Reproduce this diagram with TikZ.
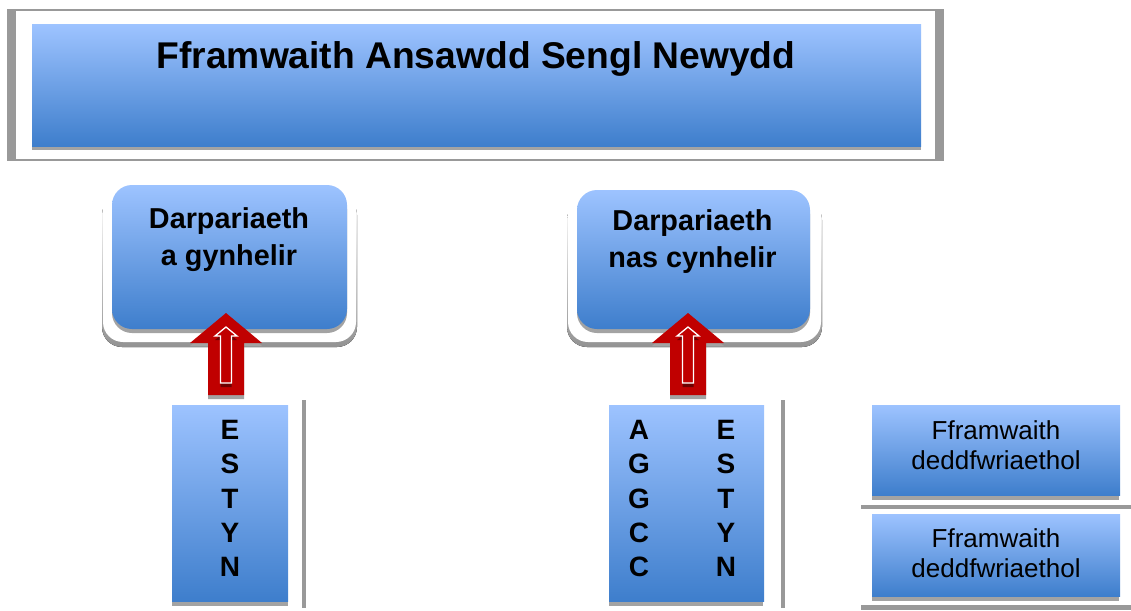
\documentclass[tikz,border=0pt]{standalone}
\usepackage{fontspec}
\setmainfont{Liberation Sans}
\definecolor{btop}{RGB}{157,195,255}
\definecolor{bbot}{RGB}{62,126,204}
\definecolor{sgray}{RGB}{163,163,163}
\definecolor{fgray}{RGB}{153,153,153}
\definecolor{ared}{RGB}{192,0,0}
\definecolor{dred}{RGB}{110,0,0}
\tikzset{
  bluebox/.style={top color=btop, bottom color=bbot, draw=none, inner sep=0pt},
  roundbox/.style={bluebox, rounded corners=20pt},
  titletxt/.style={font=\bfseries\fontsize{37.2}{44}\selectfont, inner sep=0pt},
  headtxt/.style={font=\bfseries\fontsize{28.8}{37}\selectfont, align=center, inner sep=0pt},
  lettertxt/.style={font=\bfseries\fontsize{28}{34.25}\selectfont, align=center, inner sep=0pt},
  plaintxt/.style={font=\fontsize{26}{30}\selectfont, align=center, inner sep=0pt},
  pics/uparrow/.style={code={
    \fill[sgray] (0,3) -- (36,33) -- (18,33) -- (18,86) -- (-18,86) -- (-18,33) -- (-36,33) -- cycle;
    \fill[ared] (0,0) -- (36,30) -- (18,30) -- (18,82) -- (-18,82) -- (-18,30) -- (-36,30) -- cycle;
    \fill[dred] (0,18) -- (11,27) -- (5.5,27) -- (5.5,74) -- (-5.5,74) -- (-5.5,27) -- (-11,27) -- cycle;
    \draw[white, line width=1.3pt, fill=ared, line join=miter] (0,14) -- (11,23) -- (5.5,23) -- (5.5,70) -- (-5.5,70) -- (-5.5,23) -- (-11,23) -- cycle;
  }}
}
\begin{document}
\begin{tikzpicture}[x=1pt,y=-1pt]
\useasboundingbox (0,0) rectangle (1131,610);
% top frame
\fill[fgray] (7,9) rectangle (944,161);
\fill[white] (16,10.7) rectangle (935,159.3);
\fill[sgray] (32,140) rectangle (921,150);
\node[bluebox, minimum width=889pt, minimum height=121pt] (title) at (476.5,85.5) {};
\node[titletxt, anchor=base] (titletext) at (476,68.5) {Fframwaith Ansawdd Sengl Newydd};

% left rounded box
\fill[top color=white, bottom color=gray!85, rounded corners=20pt] (102,195) rectangle (357,347);
\fill[white, rounded corners=20pt] (103,180) rectangle (356,342);
\fill[sgray, rounded corners=20pt] (112,189) rectangle (347,333);
\node[roundbox, minimum width=235pt, minimum height=144pt] (kept) at (229.5,257) {};
\node[headtxt] (keptlabel) at (229,239.5) {Darpariaeth\\a gynhelir};

% right rounded box
\fill[top color=white, bottom color=gray!85, rounded corners=20pt] (567,200) rectangle (822,347);
\fill[white, rounded corners=20pt] (568,185) rectangle (821,342);
\fill[sgray, rounded corners=20pt] (577,194) rectangle (810,333);
\node[roundbox, minimum width=233pt, minimum height=139pt] (notkept) at (693.5,259.5) {};
\node[headtxt] (notkeptlabel) at (692.5,241.5) {Darpariaeth\\nas cynhelir};

% arrows
\pic at (226,313) {uparrow};
\pic at (688,313) {uparrow};

% ESTYN box
\fill[sgray] (172,410) rectangle (288,606);
\node[bluebox, minimum width=116pt, minimum height=196pt] (estyn1) at (230,503) {};
\node[lettertxt] (estyn1text) at (230,498.5) {E\\S\\T\\Y\\N};
\fill[fgray] (302,400) rectangle (306,608);

% AGGCC / ESTYN box
\fill[sgray] (609,410) rectangle (763,606);
\node[bluebox, minimum width=155pt, minimum height=196pt] (estyn2) at (686.5,503) {};
\node[lettertxt] (aggcctext) at (639,498.5) {A\\G\\G\\C\\C};
\node[lettertxt] (estyn2text) at (726,498.5) {E\\S\\T\\Y\\N};
\fill[fgray] (780.5,400) rectangle (784.5,608);

% legislative framework boxes
\fill[sgray] (872,495) rectangle (1119,500);
\node[bluebox, minimum width=248pt, minimum height=90pt] (frameA) at (996,450) {};
\node[plaintxt] (frameAtext) at (996,445.5) {Fframwaith\\deddfwriaethol};
\fill[fgray] (861,505) rectangle (1131,509);
\fill[sgray] (872,596) rectangle (1119,601);
\node[bluebox, minimum width=248pt, minimum height=82pt] (frameB) at (996,555) {};
\node[plaintxt] (frameBtext) at (996,553.5) {Fframwaith\\deddfwriaethol};
\fill[fgray] (861,605) rectangle (1131,610);
\end{tikzpicture}
\end{document}
